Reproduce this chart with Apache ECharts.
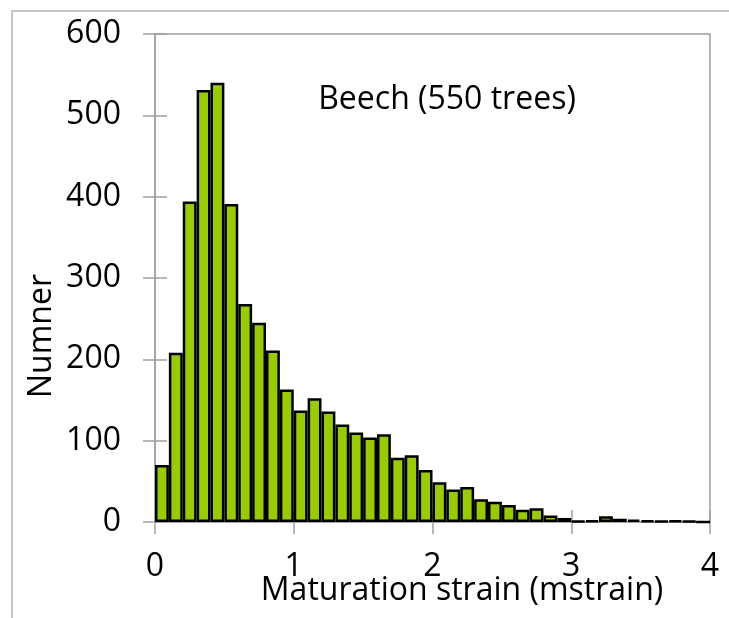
<!DOCTYPE html>
<html>
<head>
<meta charset="utf-8">
<style>
    html, body { margin: 0; padding: 0; background: #fff; }
    #chart01 { width: 729px; height: 618px; }
</style>
<script src="https://cdn.jsdelivr.net/npm/echarts@6/dist/echarts.min.js"></script>
</head>
<body>
<div id="chart01"></div>
<script>
// 直方图的分组（每组 0.1 mstrain，写的是组的起点）
const bins = ['0.0', '0.1', '0.2', '0.3', '0.4', '0.5', '0.6', '0.7', '0.8', '0.9',
    '1.0', '1.1', '1.2', '1.3', '1.4', '1.5', '1.6', '1.7', '1.8', '1.9',
    '2.0', '2.1', '2.2', '2.3', '2.4', '2.5', '2.6', '2.7', '2.8', '2.9',
    '3.0', '3.1', '3.2', '3.3', '3.4', '3.5', '3.6', '3.7', '3.8', '3.9'];
// 每组的数量
const counts = [70, 208, 394, 531, 540, 391, 268, 245, 211, 163,
    137, 152, 136, 120, 110, 104, 108, 79, 82, 64,
    49, 40, 43, 28, 25, 21, 15, 17, 8, 5,
    1, 2, 7, 4, 3, 2, 1, 2, 1, 0];
// 刻度
const xTicks = [0, 1, 2, 3, 4];
const yTicks = [0, 100, 200, 300, 400, 500, 600];

const titleText = 'Beech (550 trees)';
const xName = 'Maturation strain (mstrain)';
const yName = 'Numner';

chart01();

function chart01() {
    var chartDom = document.getElementById('chart01');
    var myChart = echarts.init(chartDom);
    var option;
    var font = '"Open Sans", sans-serif';
    var gray = '#a0a0a0';
    var xStep = xTicks[1] - xTicks[0];
    var yStep = yTicks[1] - yTicks[0];
    // 数值轴（刻度、标签），跨过轴线的刻度用两根轴叠出来
    var xValueAxis = function (inside) {
        return {
            type: 'value',
            position: 'bottom',
            gridIndex: 0,
            min: xTicks[0],
            max: xTicks[xTicks.length - 1],
            interval: xStep,
            axisLine: { show: !inside, lineStyle: { color: gray, width: 1.5 } },
            axisTick: { show: true, inside: inside, length: 12, lineStyle: { color: gray, width: 1.5 } },
            axisLabel: {
                show: !inside, margin: 29,
                color: '#000', fontFamily: font, fontSize: 32
            },
            splitLine: { show: false }
        };
    };
    var yValueAxis = function (inside) {
        return {
            type: 'value',
            position: 'left',
            min: yTicks[0],
            max: yTicks[yTicks.length - 1],
            interval: yStep,
            axisLine: { show: !inside, lineStyle: { color: gray, width: 1.5 } },
            axisTick: { show: true, inside: inside, length: 12, lineStyle: { color: gray, width: 1.5 } },
            axisLabel: {
                show: !inside, margin: 34,
                color: '#000', fontFamily: font, fontSize: 32
            },
            splitLine: { show: false }
        };
    };
    option = {
        animation: false,
        backgroundColor: '#fff',
        grid: {
            left: 155,
            right: 19,
            top: 34,
            bottom: 96,
            show: true,
            borderColor: gray,
            borderWidth: 1.5,
            backgroundColor: 'transparent'
        },
        xAxis: [
            {
                type: 'category',
                data: bins,
                boundaryGap: true,
                axisLine: { show: false },
                axisTick: { show: false },
                axisLabel: { show: false },
                splitLine: { show: false }
            },
            xValueAxis(false),
            xValueAxis(true)
        ],
        yAxis: [
            yValueAxis(false),
            yValueAxis(true)
        ],
        graphic: [
            {
                // 外框
                type: 'rect',
                shape: { x: 12, y: 11, width: 760, height: 660 },
                style: { fill: 'none', stroke: '#b4b4b4', lineWidth: 1.5 },
                silent: true,
                z: -10
            },
            {
                type: 'text',
                x: 447,
                y: 100,
                style: {
                    text: titleText, fill: '#000',
                    font: '32px ' + font,
                    textAlign: 'center', textVerticalAlign: 'middle'
                }
            },
            {
                type: 'text',
                x: 462,
                y: 591,
                style: {
                    text: xName, fill: '#000',
                    font: '32px ' + font,
                    textAlign: 'center', textVerticalAlign: 'middle'
                }
            },
            {
                type: 'text',
                x: 42,
                y: 336,
                rotation: Math.PI / 2,
                style: {
                    text: yName, fill: '#000',
                    font: '32px ' + font,
                    textAlign: 'center', textVerticalAlign: 'middle'
                }
            }
        ],
        series: [
            {
                type: 'bar',
                xAxisIndex: 0,
                yAxisIndex: 0,
                barWidth: '100%',
                itemStyle: {
                    color: '#99cc00',
                    borderColor: '#000',
                    borderWidth: 2.5
                },
                data: counts
            }
        ]
    };

    option && myChart.setOption(option);
}
</script>
</body>
</html>
